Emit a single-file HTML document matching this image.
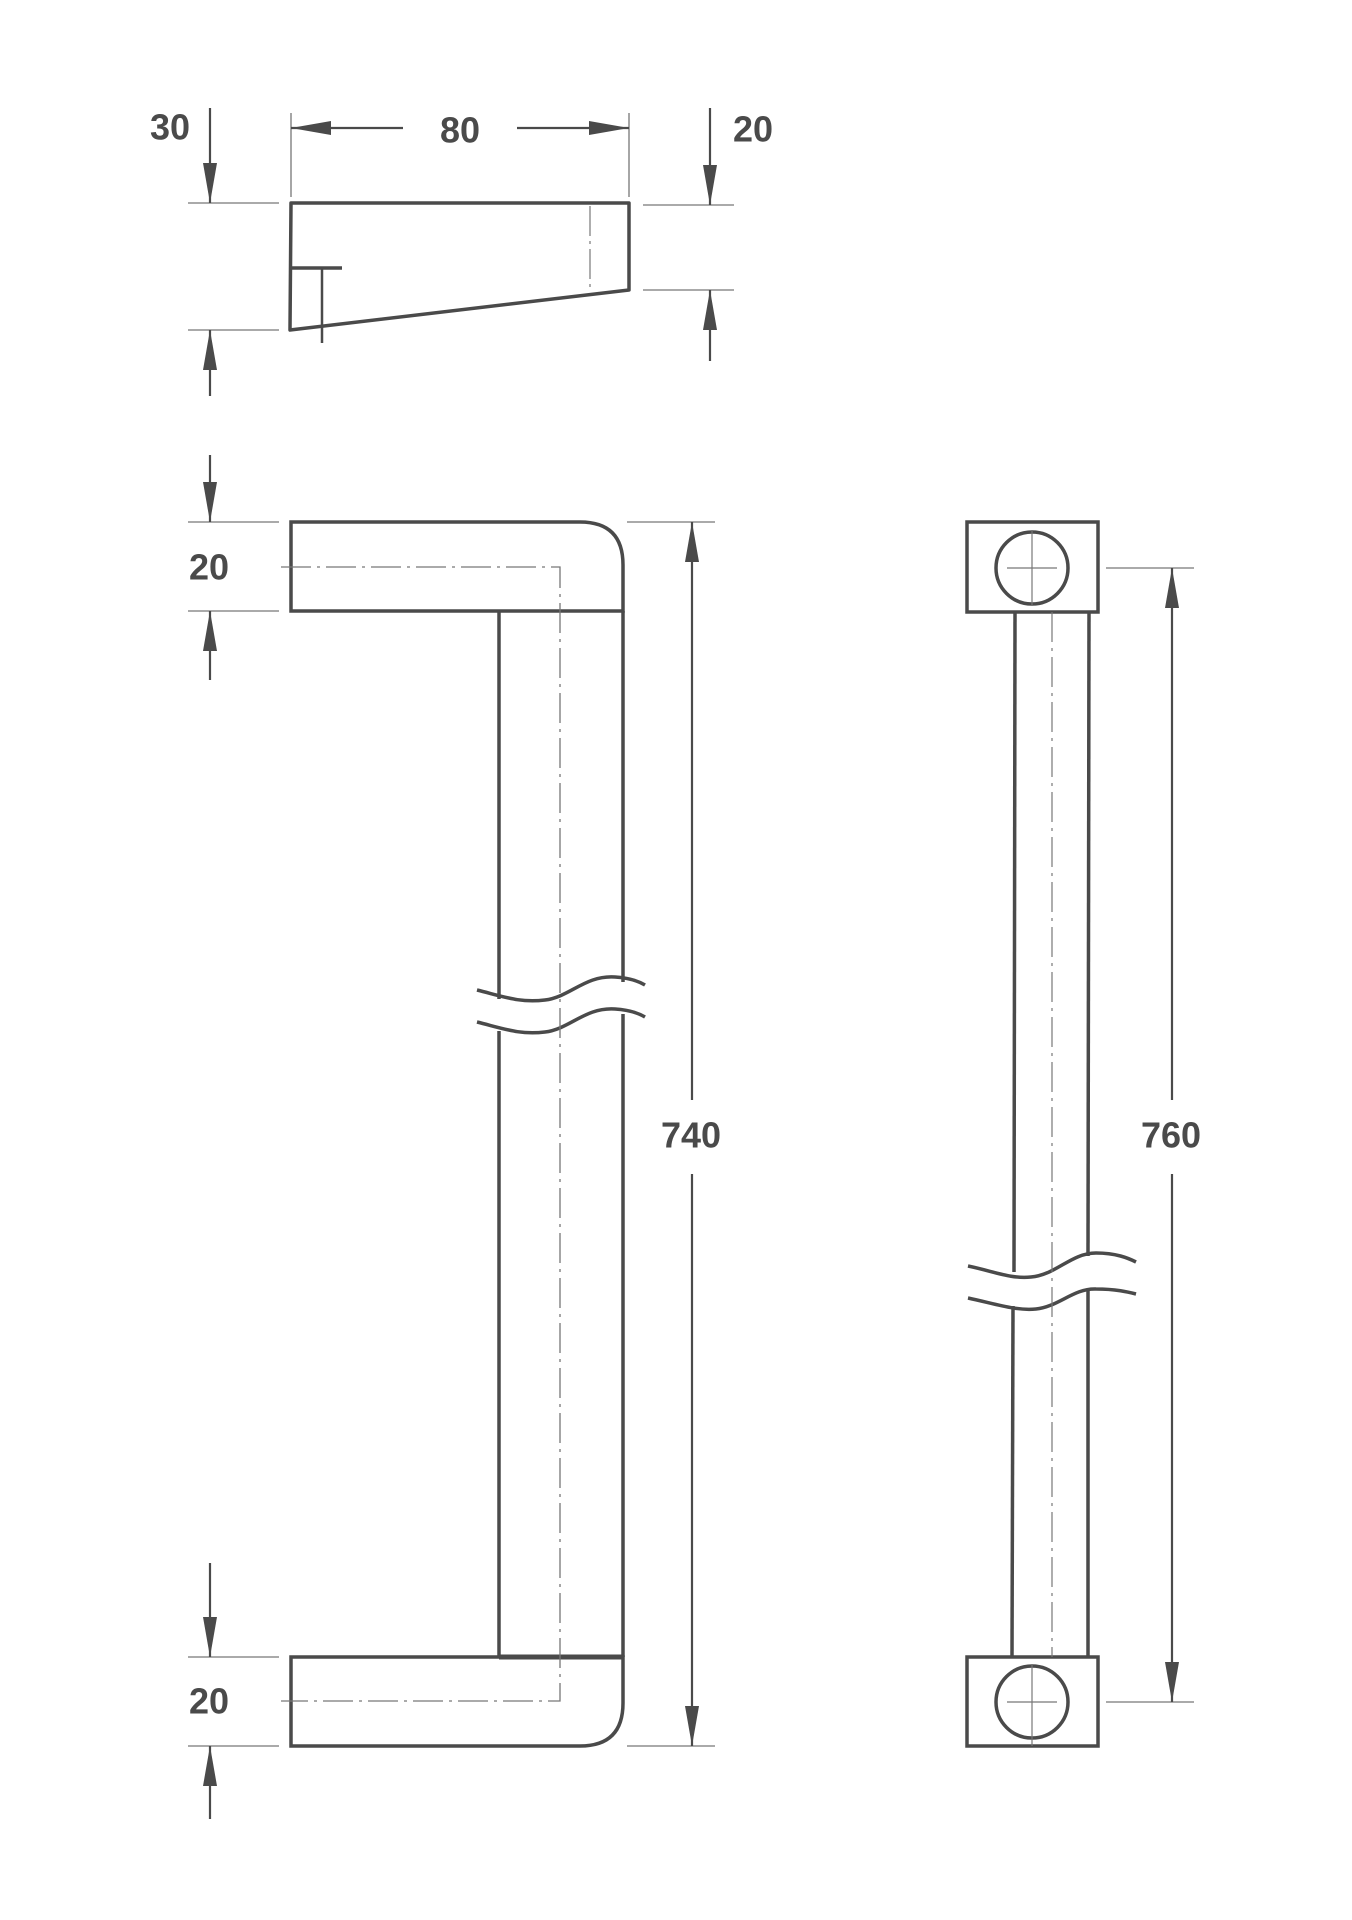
<!DOCTYPE html>
<html><head><meta charset="utf-8"><style>
html,body{margin:0;padding:0;background:#fff}
svg{display:block}
text{font-family:"Liberation Sans",sans-serif;font-weight:bold;font-size:36px;fill:#4a4a4a;text-anchor:middle;dominant-baseline:central}
</style></head><body>
<svg width="1352" height="1920" viewBox="0 0 1352 1920" xmlns="http://www.w3.org/2000/svg">
<defs>
<marker id="b" viewBox="0 0 40 14" refX="40" refY="7" markerWidth="40" markerHeight="14" markerUnits="userSpaceOnUse" orient="auto-start-reverse">
<path d="M0,0 L40,7 L0,14 z" fill="#4a4a4a"/></marker>
</defs>
<g stroke="#4a4a4a" fill="none">
<g stroke-width="1.3" stroke="#777">
<line x1="188" y1="203" x2="279" y2="203"/><line x1="188" y1="330" x2="279" y2="330"/>
<line x1="291" y1="113" x2="291" y2="197"/><line x1="629" y1="113" x2="629" y2="197"/>
<line x1="643" y1="205" x2="734" y2="205"/><line x1="643" y1="290" x2="734" y2="290"/>
<line x1="188" y1="522" x2="279" y2="522"/><line x1="188" y1="611" x2="279" y2="611"/>
<line x1="188" y1="1657" x2="279" y2="1657"/><line x1="188" y1="1746" x2="279" y2="1746"/>
<line x1="627" y1="522" x2="715" y2="522"/><line x1="627" y1="1746" x2="715" y2="1746"/>
</g>
<g stroke-width="2.2">
<line x1="210" y1="108" x2="210" y2="203" marker-end="url(#b)"/>
<line x1="210" y1="396" x2="210" y2="330" marker-end="url(#b)"/>
<line x1="403" y1="128" x2="291" y2="128" marker-end="url(#b)"/>
<line x1="517" y1="128" x2="629" y2="128" marker-end="url(#b)"/>
<line x1="710" y1="108" x2="710" y2="205" marker-end="url(#b)"/>
<line x1="710" y1="361" x2="710" y2="290" marker-end="url(#b)"/>
<line x1="210" y1="455" x2="210" y2="522" marker-end="url(#b)"/>
<line x1="210" y1="680" x2="210" y2="611" marker-end="url(#b)"/>
<line x1="210" y1="1563" x2="210" y2="1657" marker-end="url(#b)"/>
<line x1="210" y1="1819" x2="210" y2="1746" marker-end="url(#b)"/>
<line x1="692" y1="1100" x2="692" y2="522" marker-end="url(#b)"/>
<line x1="692" y1="1174" x2="692" y2="1746" marker-end="url(#b)"/>
</g>
<g stroke-width="3.5" stroke-linejoin="round">
<path d="M291,203 L629,203 L629,290 L290,330 Z"/>
<line x1="291" y1="268" x2="342" y2="268"/>
</g>
<line x1="322" y1="268" x2="322" y2="343" stroke-width="2.5"/>
<line x1="590" y1="206" x2="590" y2="287" stroke-width="1.2" stroke-dasharray="30,5,3,5" stroke="#777"/>
<g stroke-width="3.5">
<path d="M291,522 L580,522 Q623,522 623,565 L623,611 L291,611 Z"/>
<path d="M291,1657 L623,1657 L623,1703 Q623,1746 580,1746 L291,1746 Z"/>
<line x1="623" y1="611" x2="623" y2="982"/><line x1="623" y1="1014" x2="623" y2="1657"/>
<line x1="499" y1="611" x2="499" y2="999"/><line x1="499" y1="1031" x2="499" y2="1657"/>
<line x1="499" y1="1657" x2="623" y2="1657" stroke-width="5"/>
<path d="M477,990 C505,997 520,1003 545,1000 C570,997 585,975 615,977 C630,978 640,982 645,985"/>
<path d="M477,1022 C505,1029 520,1035 545,1032 C570,1029 585,1007 615,1009 C630,1010 640,1014 645,1017"/>
</g>
<g stroke-width="1.3" stroke="#777" stroke-dasharray="30,6,3,6">
<path d="M281,567 L560,567 L560,1701 L281,1701"/>
</g>
<g transform="translate(-4,0)">
<g stroke-width="1.3" stroke="#777">
<line x1="1110" y1="568" x2="1198" y2="568"/><line x1="1110" y1="1702" x2="1198" y2="1702"/>
</g>
<g stroke-width="2.2">
<line x1="1176" y1="1100" x2="1176" y2="568" marker-end="url(#b)"/>
<line x1="1176" y1="1174" x2="1176" y2="1702" marker-end="url(#b)"/>
</g>
<g stroke-width="3.5">
<rect x="971" y="522" width="131" height="90"/>
<rect x="971" y="1657" width="131" height="89"/>
<circle cx="1036" cy="568" r="36"/>
<circle cx="1036" cy="1702" r="36"/>
<line x1="1019" y1="612" x2="1018" y2="1272"/><line x1="1017" y1="1306" x2="1016" y2="1657"/>
<line x1="1093" y1="612" x2="1092" y2="1256"/><line x1="1092" y1="1290" x2="1092" y2="1657"/>
<path d="M972,1266 C1000,1272 1015,1279 1035,1277 C1060,1275 1075,1253 1100,1253 C1120,1253 1132,1258 1140,1262"/>
<path d="M972,1298 C1000,1304 1020,1311 1040,1309 C1062,1307 1078,1288 1100,1289 C1120,1289 1132,1292 1140,1294"/>
</g>
<g stroke-width="1.2" stroke="#777">
<line x1="1011" y1="568" x2="1061" y2="568"/><line x1="1036" y1="530" x2="1036" y2="606"/>
<line x1="1011" y1="1702" x2="1061" y2="1702"/><line x1="1036" y1="1664" x2="1036" y2="1746"/>
<line x1="1056" y1="612" x2="1056" y2="1657" stroke-dasharray="30,6,3,6"/>
</g>
</g>
</g>
<text x="170" y="127">30</text>
<text x="460" y="130">80</text>
<text x="753" y="129">20</text>
<text x="209" y="567">20</text>
<text x="209" y="1701">20</text>
<text x="691" y="1135">740</text>
<text x="1171" y="1135">760</text>
</svg>
</body></html>
